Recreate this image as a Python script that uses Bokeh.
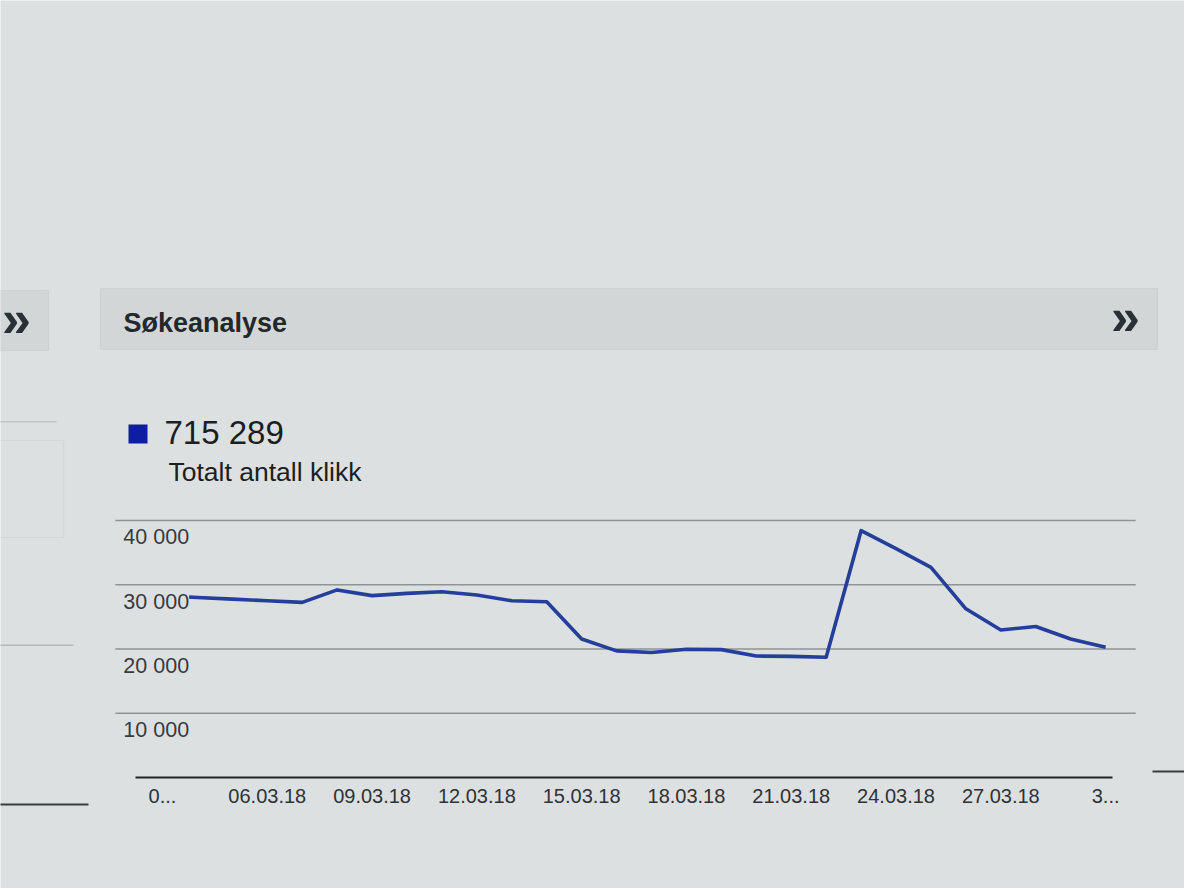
from bokeh.plotting import figure
from bokeh.models import Range1d, FixedTicker, BoxAnnotation, Label
from bokeh.core.properties import value
from bokeh.embed import file_html
from bokeh.resources import INLINE

# data (one point per day)
dates = ["03.03.18", "04.03.18", "05.03.18", "06.03.18", "07.03.18", "08.03.18",
         "09.03.18", "10.03.18", "11.03.18", "12.03.18", "13.03.18", "14.03.18",
         "15.03.18", "16.03.18", "17.03.18", "18.03.18", "19.03.18", "20.03.18",
         "21.03.18", "22.03.18", "23.03.18", "24.03.18", "25.03.18", "26.03.18",
         "27.03.18", "28.03.18", "29.03.18", "30.03.18"]
clicks = [28300, 28000, 27750, 27500, 27250, 29189, 28300, 28650, 28900, 28400,
          27500, 27350, 21550, 19700, 19450, 19950, 19900, 18900, 18850, 18700,
          38400, 35600, 32700, 26250, 22950, 23500, 21550, 20250]
y_ticks = [10000, 20000, 30000, 40000]
y_tick_labels = ["10 000", "20 000", "30 000", "40 000"]
panel_title = "Søkeanalyse"
total_label = "715 289"
metric_name = "Totalt antall klikk"

BG = "#dde0e0"
BAR = "#d3d6d6"
FONT = "Liberation Sans"

W, H = 1184, 888
# the plot frame fills the whole canvas; the chart area is a part of it
DAY_PX = 34.93           # px per day
X0_PX = 162              # x of the first day
ZERO_PX = 777            # y of value 0
VAL_PX = 259 / 40300     # px per click
CHART_X = (-1.35, 27.86)  # left/right end of the grid lines, in days

x_range = Range1d(-X0_PX / DAY_PX, (W - X0_PX) / DAY_PX)
y_range = Range1d((ZERO_PX - H) / VAL_PX, ZERO_PX / VAL_PX)

p = figure(width=W, height=H, output_backend="svg", toolbar_location=None,
           x_range=x_range, y_range=y_range, y_axis_location=None,
           min_border=0, min_border_left=0, min_border_right=0,
           min_border_top=0, min_border_bottom=0,
           background_fill_color=BG, border_fill_color=BG,
           outline_line_color=None)
p.grid.visible = False

# grid lines, only across the chart area
p.segment(x0=[CHART_X[0]] * len(y_ticks), x1=[CHART_X[1]] * len(y_ticks),
          y0=y_ticks, y1=y_ticks, line_color="#8e9393", line_width=1.4)

# x axis: every third day, first and last label cut short like the original
ticks = list(range(0, len(dates), 3))
overrides = {i: dates[i] for i in ticks}
overrides[ticks[0]] = dates[ticks[0]][0] + "..."
overrides[ticks[-1]] = dates[ticks[-1]][0] + "..."
xa = p.xaxis[0]
xa.fixed_location = 0
xa.ticker = FixedTicker(ticks=ticks)
xa.major_label_overrides = overrides
xa.bounds = (-0.77, 27.2)
xa.axis_line_color = "#202326"
xa.axis_line_width = 2
xa.major_tick_line_color = None
xa.minor_tick_line_color = None
xa.major_tick_out = 0
xa.major_label_standoff = 11
xa.major_label_text_font = FONT
xa.major_label_text_font_size = "20px"
xa.major_label_text_color = "#2f3236"

p.line(x=list(range(len(dates))), y=clicks, line_color="#233e9b",
       line_width=3.6, line_join="round")

# y labels sit inside the chart, just under their grid line (and over the line)
p.text(x=[CHART_X[0]] * len(y_ticks), y=y_ticks, text=y_tick_labels,
       x_offset=8, y_offset=5, text_font=value(FONT), text_font_size="21.5px",
       text_align="left", text_baseline="top", text_color="#383b3f",
       background_fill_color=BG)


def sx(px):
    return px


def sy(py):
    return H - py


def box(left, right, top, bottom, **kw):
    p.add_layout(BoxAnnotation(left=sx(left), right=sx(right), top=sy(top),
                               bottom=sy(bottom), left_units="screen",
                               right_units="screen", top_units="screen",
                               bottom_units="screen", **kw))


def label(x, y, text, **kw):
    p.add_layout(Label(x=sx(x), y=sy(y), x_units="screen", y_units="screen",
                       text=text, text_font=FONT, text_baseline="middle", **kw))


# header bar and side bits
box(100, 1157, 288, 349, fill_color=BAR, fill_alpha=1,
    line_color="#b8bbbb", line_width=1.2)
box(-3, 48, 290, 350, fill_color=BAR, fill_alpha=1,
    line_color="#b8bbbb", line_width=1.2)
box(-3, 63, 440, 537, fill_alpha=0, line_color="#bfc2c2", line_width=1.2)
box(-3, 56, 420.5, 422, fill_color="#c2c5c5", fill_alpha=1, line_color=None)
box(-3, 73, 644, 645.5, fill_color="#b6b9b9", fill_alpha=1, line_color=None)
box(-3, 88, 803, 805, fill_color="#3a3d3d", fill_alpha=1, line_color=None)
box(1152, 1190, 770, 772, fill_color="#3a3d3d", fill_alpha=1, line_color=None)

label(123, 322, panel_title, text_font_style="bold", text_font_size="27px",
      text_color="#24282c")
label(1125, 316, "»", text_align="center", text_font_style="bold",
      text_font_size="52px", text_color="#2a3038")
label(16, 318, "»", text_align="center", text_font_style="bold",
      text_font_size="52px", text_color="#2a3038")

# legend
box(128, 147, 424, 443, fill_color="#0d1f9e", fill_alpha=1, line_color=None)
label(164, 432, total_label, text_font_size="33px", text_color="#1b1e22")
label(168, 471, metric_name, text_font_size="26.5px", text_color="#1b1e22")

open("out.html", "w").write(file_html(p, INLINE))
